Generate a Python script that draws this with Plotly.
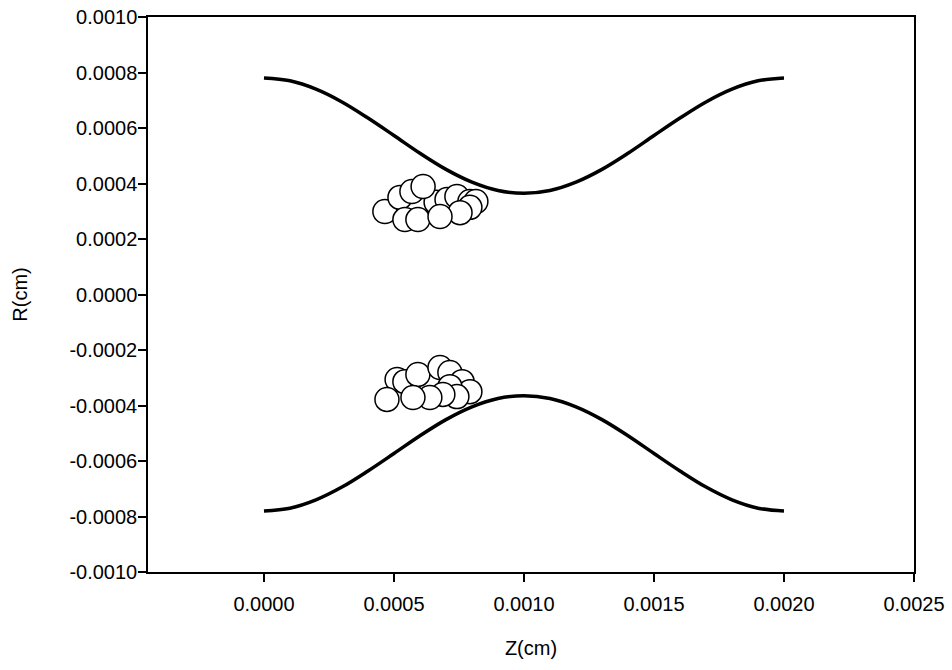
import plotly.graph_objects as go

# Wall profile (upper)
wall_z = [0.0, 0.0001, 0.0002, 0.0003, 0.0004, 0.0005, 0.0006, 0.0007, 0.0008, 0.0009, 0.0010,
          0.0011, 0.0012, 0.0013, 0.0014, 0.0015, 0.0016, 0.0017, 0.0018, 0.0019, 0.0020]
wall_upper_r = [0.000780, 0.000770, 0.000740, 0.000694, 0.000636, 0.000573, 0.000509, 0.000451,
                0.000405, 0.000375, 0.000365, 0.000375, 0.000405, 0.000451, 0.000509, 0.000573,
                0.000636, 0.000694, 0.000740, 0.000770, 0.000780]
wall_lower_r = [-v for v in wall_upper_r]

# Particles (upper cluster)
up_z = [0.000465, 0.000523, 0.000542, 0.000569, 0.000592, 0.000662, 0.000704, 0.000742,
        0.000792, 0.000815, 0.000792, 0.000754, 0.000677, 0.000612]
up_r = [0.000299, 0.000350, 0.000270, 0.000371, 0.000270, 0.000332, 0.000342, 0.000353,
        0.000335, 0.000335, 0.000314, 0.000295, 0.000281, 0.000389]

# Particles (lower cluster)
lo_z = [0.000512, 0.000542, 0.000592, 0.000677, 0.000715, 0.000762, 0.000792, 0.000715,
        0.000742, 0.000688, 0.000638, 0.000573, 0.000473]
lo_r = [-0.000306, -0.000314, -0.000288, -0.000263, -0.000281, -0.000314, -0.000350, -0.000332,
        -0.000368, -0.000360, -0.000371, -0.000371, -0.000378]

x_ticks = [0.0, 0.0005, 0.0010, 0.0015, 0.0020, 0.0025]
x_tick_labels = ["0.0000", "0.0005", "0.0010", "0.0015", "0.0020", "0.0025"]
y_ticks = [-0.0010, -0.0008, -0.0006, -0.0004, -0.0002, 0.0, 0.0002, 0.0004, 0.0006, 0.0008, 0.0010]
y_tick_labels = ["-0.0010", "-0.0008", "-0.0006", "-0.0004", "-0.0002", "0.0000",
                 "0.0002", "0.0004", "0.0006", "0.0008", "0.0010"]

fig = go.Figure()
line_style = dict(color="black", width=3.5, shape="spline")
fig.add_trace(go.Scatter(x=wall_z, y=wall_upper_r, mode="lines", line=line_style, showlegend=False))
fig.add_trace(go.Scatter(x=wall_z, y=wall_lower_r, mode="lines", line=line_style, showlegend=False))
marker_style = dict(symbol="circle", size=24, color="white", line=dict(color="black", width=1.5))
fig.add_trace(go.Scatter(x=up_z, y=up_r, mode="markers", marker=marker_style, showlegend=False,
                         cliponaxis=False))
fig.add_trace(go.Scatter(x=lo_z, y=lo_r, mode="markers", marker=marker_style, showlegend=False,
                         cliponaxis=False))

font = dict(family="Liberation Sans, Arial, sans-serif", size=20, color="black")
fig.update_layout(
    width=952, height=670,
    margin=dict(l=148, r=38, t=17, b=98, autoexpand=False),
    paper_bgcolor="white", plot_bgcolor="white",
    font=font,
)
fig.update_xaxes(
    range=[-0.000446, 0.0025], tickvals=x_ticks, ticktext=x_tick_labels,
    ticks="outside", ticklen=8, tickwidth=1.5, tickcolor="black",
    showline=True, linecolor="black", linewidth=1.5, mirror=True,
    showgrid=False, zeroline=False, ticklabelstandoff=5, automargin=False,
    title=dict(text="Z(cm)", font=font, standoff=27),
)
fig.update_yaxes(
    range=[-0.0010, 0.0010], tickvals=y_ticks, ticktext=y_tick_labels,
    ticks="outside", ticklen=8, tickwidth=1.5, tickcolor="black",
    showline=True, linecolor="black", linewidth=1.5, mirror=True,
    showgrid=False, zeroline=False, automargin=False, ticklabelstandoff=-3,
    title=dict(text="R(cm)", font=font, standoff=36),
)
fig.write_html("out.html")
